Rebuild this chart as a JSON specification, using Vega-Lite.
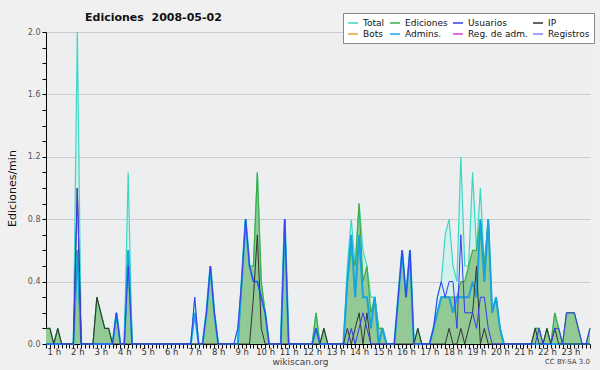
{
  "$schema": "https://vega.github.io/schema/vega-lite/v6.json",
  "width": 544,
  "height": 312,
  "autosize": {"type": "none"},
  "padding": {"left": 46, "top": 32, "right": 10, "bottom": 26},
  "background": "#f0f0f0",
  "config": {"view": {"fill": "#eceef0", "stroke": null}, "font": "DejaVu Sans"},
  "title": {"text": "Ediciones\u00a0 2008-05-02", "anchor": "start", "frame": "group", "dx": 39, "offset": -10, "fontSize": 11, "fontWeight": "bold", "color": "#111", "font": "DejaVu Sans"},
  "data": {"values": [
    {"m":40,"Total":0.1,"Ediciones":0.1,"Usuarios":0,"IP":0.1,"Admins":0},
    {"m":50,"Total":0.1,"Ediciones":0.1,"Usuarios":0,"IP":0.1,"Admins":0},
    {"m":60,"Total":0,"Ediciones":0,"Usuarios":0,"IP":0,"Admins":0},
    {"m":70,"Total":0.1,"Ediciones":0.1,"Usuarios":0,"IP":0.1,"Admins":0},
    {"m":80,"Total":0,"Ediciones":0,"Usuarios":0,"IP":0,"Admins":0},
    {"m":90,"Total":0,"Ediciones":0,"Usuarios":0,"IP":0,"Admins":0},
    {"m":100,"Total":0,"Ediciones":0,"Usuarios":0,"IP":0,"Admins":0},
    {"m":110,"Total":0,"Ediciones":0,"Usuarios":0,"IP":0,"Admins":0},
    {"m":120,"Total":2.0,"Ediciones":0.6,"Usuarios":1.0,"IP":1.0,"Admins":0.6},
    {"m":130,"Total":0,"Ediciones":0,"Usuarios":0,"IP":0,"Admins":0},
    {"m":140,"Total":0,"Ediciones":0,"Usuarios":0,"IP":0,"Admins":0},
    {"m":150,"Total":0,"Ediciones":0,"Usuarios":0,"IP":0,"Admins":0},
    {"m":160,"Total":0,"Ediciones":0,"Usuarios":0,"IP":0,"Admins":0},
    {"m":170,"Total":0.3,"Ediciones":0.3,"Usuarios":0,"IP":0.3,"Admins":0},
    {"m":180,"Total":0.2,"Ediciones":0.2,"Usuarios":0,"IP":0.2,"Admins":0},
    {"m":190,"Total":0.1,"Ediciones":0.1,"Usuarios":0,"IP":0.1,"Admins":0},
    {"m":200,"Total":0.1,"Ediciones":0.1,"Usuarios":0,"IP":0.1,"Admins":0},
    {"m":210,"Total":0,"Ediciones":0,"Usuarios":0,"IP":0,"Admins":0},
    {"m":220,"Total":0.2,"Ediciones":0.2,"Usuarios":0.2,"IP":0,"Admins":0.2},
    {"m":230,"Total":0,"Ediciones":0,"Usuarios":0,"IP":0,"Admins":0},
    {"m":240,"Total":0,"Ediciones":0,"Usuarios":0,"IP":0,"Admins":0},
    {"m":250,"Total":1.1,"Ediciones":0.6,"Usuarios":0.5,"IP":0,"Admins":0.6},
    {"m":260,"Total":0,"Ediciones":0,"Usuarios":0,"IP":0,"Admins":0},
    {"m":270,"Total":0,"Ediciones":0,"Usuarios":0,"IP":0,"Admins":0},
    {"m":280,"Total":0,"Ediciones":0,"Usuarios":0,"IP":0,"Admins":0},
    {"m":290,"Total":0,"Ediciones":0,"Usuarios":0,"IP":0,"Admins":0},
    {"m":300,"Total":0,"Ediciones":0,"Usuarios":0,"IP":0,"Admins":0},
    {"m":310,"Total":0,"Ediciones":0,"Usuarios":0,"IP":0,"Admins":0},
    {"m":320,"Total":0,"Ediciones":0,"Usuarios":0,"IP":0,"Admins":0},
    {"m":330,"Total":0,"Ediciones":0,"Usuarios":0,"IP":0,"Admins":0},
    {"m":340,"Total":0,"Ediciones":0,"Usuarios":0,"IP":0,"Admins":0},
    {"m":350,"Total":0,"Ediciones":0,"Usuarios":0,"IP":0,"Admins":0},
    {"m":360,"Total":0,"Ediciones":0,"Usuarios":0,"IP":0,"Admins":0},
    {"m":370,"Total":0,"Ediciones":0,"Usuarios":0,"IP":0,"Admins":0},
    {"m":380,"Total":0,"Ediciones":0,"Usuarios":0,"IP":0,"Admins":0},
    {"m":390,"Total":0,"Ediciones":0,"Usuarios":0,"IP":0,"Admins":0},
    {"m":400,"Total":0,"Ediciones":0,"Usuarios":0,"IP":0,"Admins":0},
    {"m":410,"Total":0,"Ediciones":0,"Usuarios":0,"IP":0,"Admins":0},
    {"m":420,"Total":0.3,"Ediciones":0,"Usuarios":0.3,"IP":0,"Admins":0.2},
    {"m":430,"Total":0,"Ediciones":0,"Usuarios":0,"IP":0,"Admins":0},
    {"m":440,"Total":0,"Ediciones":0,"Usuarios":0,"IP":0,"Admins":0},
    {"m":450,"Total":0.2,"Ediciones":0.2,"Usuarios":0.2,"IP":0,"Admins":0.2},
    {"m":460,"Total":0.5,"Ediciones":0.5,"Usuarios":0.5,"IP":0,"Admins":0.5},
    {"m":470,"Total":0.2,"Ediciones":0.2,"Usuarios":0.2,"IP":0,"Admins":0.2},
    {"m":480,"Total":0,"Ediciones":0,"Usuarios":0,"IP":0,"Admins":0},
    {"m":490,"Total":0,"Ediciones":0,"Usuarios":0,"IP":0,"Admins":0},
    {"m":500,"Total":0,"Ediciones":0,"Usuarios":0,"IP":0,"Admins":0},
    {"m":510,"Total":0,"Ediciones":0,"Usuarios":0,"IP":0,"Admins":0},
    {"m":520,"Total":0,"Ediciones":0,"Usuarios":0,"IP":0,"Admins":0},
    {"m":530,"Total":0.1,"Ediciones":0,"Usuarios":0.1,"IP":0,"Admins":0},
    {"m":540,"Total":0.4,"Ediciones":0.4,"Usuarios":0.4,"IP":0,"Admins":0.4},
    {"m":550,"Total":0.8,"Ediciones":0.8,"Usuarios":0.8,"IP":0,"Admins":0.8},
    {"m":560,"Total":0.5,"Ediciones":0.5,"Usuarios":0.5,"IP":0,"Admins":0.5},
    {"m":570,"Total":0.5,"Ediciones":0.5,"Usuarios":0.4,"IP":0.3,"Admins":0.4},
    {"m":580,"Total":1.1,"Ediciones":1.1,"Usuarios":0.4,"IP":0.7,"Admins":0.4},
    {"m":590,"Total":0.4,"Ediciones":0.4,"Usuarios":0.3,"IP":0.1,"Admins":0.3},
    {"m":600,"Total":0.2,"Ediciones":0.2,"Usuarios":0.2,"IP":0,"Admins":0.2},
    {"m":610,"Total":0,"Ediciones":0,"Usuarios":0,"IP":0,"Admins":0},
    {"m":620,"Total":0,"Ediciones":0,"Usuarios":0,"IP":0,"Admins":0},
    {"m":630,"Total":0,"Ediciones":0,"Usuarios":0,"IP":0,"Admins":0},
    {"m":640,"Total":0,"Ediciones":0,"Usuarios":0,"IP":0,"Admins":0},
    {"m":650,"Total":0.8,"Ediciones":0.8,"Usuarios":0.8,"IP":0,"Admins":0.8},
    {"m":660,"Total":0,"Ediciones":0,"Usuarios":0,"IP":0,"Admins":0},
    {"m":670,"Total":0,"Ediciones":0,"Usuarios":0,"IP":0,"Admins":0},
    {"m":680,"Total":0,"Ediciones":0,"Usuarios":0,"IP":0,"Admins":0},
    {"m":690,"Total":0,"Ediciones":0,"Usuarios":0,"IP":0,"Admins":0},
    {"m":700,"Total":0,"Ediciones":0,"Usuarios":0,"IP":0,"Admins":0},
    {"m":710,"Total":0,"Ediciones":0,"Usuarios":0,"IP":0,"Admins":0},
    {"m":720,"Total":0,"Ediciones":0,"Usuarios":0,"IP":0,"Admins":0},
    {"m":730,"Total":0.2,"Ediciones":0.2,"Usuarios":0.1,"IP":0,"Admins":0.1},
    {"m":740,"Total":0,"Ediciones":0,"Usuarios":0,"IP":0,"Admins":0},
    {"m":750,"Total":0.1,"Ediciones":0.1,"Usuarios":0,"IP":0.1,"Admins":0},
    {"m":760,"Total":0,"Ediciones":0,"Usuarios":0,"IP":0,"Admins":0},
    {"m":770,"Total":0,"Ediciones":0,"Usuarios":0,"IP":0,"Admins":0},
    {"m":780,"Total":0,"Ediciones":0,"Usuarios":0,"IP":0,"Admins":0},
    {"m":790,"Total":0,"Ediciones":0,"Usuarios":0,"IP":0,"Admins":0},
    {"m":800,"Total":0,"Ediciones":0,"Usuarios":0,"IP":0,"Admins":0},
    {"m":810,"Total":0.5,"Ediciones":0.4,"Usuarios":0,"IP":0.1,"Admins":0.4},
    {"m":820,"Total":0.8,"Ediciones":0.6,"Usuarios":0.1,"IP":0,"Admins":0.7},
    {"m":830,"Total":0.5,"Ediciones":0.5,"Usuarios":0,"IP":0.1,"Admins":0.3},
    {"m":840,"Total":0.9,"Ediciones":0.9,"Usuarios":0.1,"IP":0.2,"Admins":0.7},
    {"m":850,"Total":0.6,"Ediciones":0.4,"Usuarios":0.2,"IP":0,"Admins":0.3},
    {"m":860,"Total":0.5,"Ediciones":0.5,"Usuarios":0.1,"IP":0.2,"Admins":0.3},
    {"m":870,"Total":0.3,"Ediciones":0.2,"Usuarios":0,"IP":0,"Admins":0.1},
    {"m":880,"Total":0.3,"Ediciones":0.3,"Usuarios":0,"IP":0,"Admins":0.3},
    {"m":890,"Total":0.1,"Ediciones":0.1,"Usuarios":0,"IP":0,"Admins":0},
    {"m":900,"Total":0.1,"Ediciones":0.1,"Usuarios":0,"IP":0,"Admins":0.1},
    {"m":910,"Total":0,"Ediciones":0,"Usuarios":0,"IP":0,"Admins":0},
    {"m":920,"Total":0,"Ediciones":0,"Usuarios":0,"IP":0,"Admins":0},
    {"m":930,"Total":0,"Ediciones":0,"Usuarios":0,"IP":0,"Admins":0},
    {"m":940,"Total":0.3,"Ediciones":0.3,"Usuarios":0.3,"IP":0,"Admins":0.3},
    {"m":950,"Total":0.6,"Ediciones":0.6,"Usuarios":0.6,"IP":0,"Admins":0.6},
    {"m":960,"Total":0.3,"Ediciones":0.3,"Usuarios":0.3,"IP":0,"Admins":0.3},
    {"m":970,"Total":0.6,"Ediciones":0.6,"Usuarios":0.6,"IP":0,"Admins":0.6},
    {"m":980,"Total":0,"Ediciones":0,"Usuarios":0,"IP":0,"Admins":0},
    {"m":990,"Total":0.1,"Ediciones":0.1,"Usuarios":0,"IP":0.1,"Admins":0},
    {"m":1000,"Total":0,"Ediciones":0,"Usuarios":0,"IP":0,"Admins":0},
    {"m":1010,"Total":0,"Ediciones":0,"Usuarios":0,"IP":0,"Admins":0},
    {"m":1020,"Total":0,"Ediciones":0,"Usuarios":0,"IP":0,"Admins":0},
    {"m":1030,"Total":0.1,"Ediciones":0.1,"Usuarios":0.1,"IP":0,"Admins":0.1},
    {"m":1040,"Total":0.3,"Ediciones":0.2,"Usuarios":0.3,"IP":0,"Admins":0.2},
    {"m":1050,"Total":0.4,"Ediciones":0.3,"Usuarios":0.4,"IP":0,"Admins":0.3},
    {"m":1060,"Total":0.7,"Ediciones":0.3,"Usuarios":0.3,"IP":0,"Admins":0.3},
    {"m":1070,"Total":0.8,"Ediciones":0.3,"Usuarios":0.4,"IP":0.1,"Admins":0.3},
    {"m":1080,"Total":0.5,"Ediciones":0.3,"Usuarios":0.4,"IP":0,"Admins":0.2},
    {"m":1090,"Total":0.4,"Ediciones":0.3,"Usuarios":0.1,"IP":0,"Admins":0.3},
    {"m":1100,"Total":1.2,"Ediciones":0.4,"Usuarios":0.7,"IP":0.1,"Admins":0.3},
    {"m":1110,"Total":0.5,"Ediciones":0.4,"Usuarios":0.2,"IP":0,"Admins":0.3},
    {"m":1120,"Total":0.5,"Ediciones":0.5,"Usuarios":0.2,"IP":0.1,"Admins":0.3},
    {"m":1130,"Total":1.1,"Ediciones":0.6,"Usuarios":0.2,"IP":0.2,"Admins":0.4},
    {"m":1140,"Total":0.6,"Ediciones":0.6,"Usuarios":0.1,"IP":0.5,"Admins":0.3},
    {"m":1150,"Total":1.0,"Ediciones":0.8,"Usuarios":0.3,"IP":0,"Admins":0.8},
    {"m":1160,"Total":0.5,"Ediciones":0.5,"Usuarios":0.3,"IP":0.1,"Admins":0.4},
    {"m":1170,"Total":0.8,"Ediciones":0.8,"Usuarios":0.1,"IP":0,"Admins":0.8},
    {"m":1180,"Total":0.2,"Ediciones":0.2,"Usuarios":0,"IP":0,"Admins":0.2},
    {"m":1190,"Total":0.3,"Ediciones":0.3,"Usuarios":0,"IP":0,"Admins":0.3},
    {"m":1200,"Total":0.1,"Ediciones":0.1,"Usuarios":0,"IP":0,"Admins":0.1},
    {"m":1210,"Total":0,"Ediciones":0,"Usuarios":0,"IP":0,"Admins":0},
    {"m":1220,"Total":0,"Ediciones":0,"Usuarios":0,"IP":0,"Admins":0},
    {"m":1230,"Total":0,"Ediciones":0,"Usuarios":0,"IP":0,"Admins":0},
    {"m":1240,"Total":0,"Ediciones":0,"Usuarios":0,"IP":0,"Admins":0},
    {"m":1250,"Total":0,"Ediciones":0,"Usuarios":0,"IP":0,"Admins":0},
    {"m":1260,"Total":0,"Ediciones":0,"Usuarios":0,"IP":0,"Admins":0},
    {"m":1270,"Total":0,"Ediciones":0,"Usuarios":0,"IP":0,"Admins":0},
    {"m":1280,"Total":0,"Ediciones":0,"Usuarios":0,"IP":0,"Admins":0},
    {"m":1290,"Total":0.1,"Ediciones":0.1,"Usuarios":0,"IP":0.1,"Admins":0},
    {"m":1300,"Total":0.1,"Ediciones":0.1,"Usuarios":0.1,"IP":0,"Admins":0},
    {"m":1310,"Total":0,"Ediciones":0,"Usuarios":0,"IP":0,"Admins":0},
    {"m":1320,"Total":0.1,"Ediciones":0.1,"Usuarios":0,"IP":0.1,"Admins":0},
    {"m":1330,"Total":0,"Ediciones":0,"Usuarios":0,"IP":0,"Admins":0},
    {"m":1340,"Total":0.2,"Ediciones":0.2,"Usuarios":0.1,"IP":0.1,"Admins":0},
    {"m":1350,"Total":0.1,"Ediciones":0.1,"Usuarios":0.1,"IP":0,"Admins":0},
    {"m":1360,"Total":0,"Ediciones":0,"Usuarios":0,"IP":0,"Admins":0},
    {"m":1370,"Total":0.2,"Ediciones":0.2,"Usuarios":0.2,"IP":0,"Admins":0},
    {"m":1380,"Total":0.2,"Ediciones":0.2,"Usuarios":0.2,"IP":0,"Admins":0},
    {"m":1390,"Total":0.2,"Ediciones":0.2,"Usuarios":0.2,"IP":0,"Admins":0},
    {"m":1400,"Total":0.1,"Ediciones":0.1,"Usuarios":0.1,"IP":0,"Admins":0},
    {"m":1410,"Total":0,"Ediciones":0,"Usuarios":0,"IP":0,"Admins":0},
    {"m":1420,"Total":0,"Ediciones":0,"Usuarios":0,"IP":0,"Admins":0},
    {"m":1430,"Total":0.1,"Ediciones":0.1,"Usuarios":0.1,"IP":0,"Admins":0}
  ]},
  "encoding": {
    "x": {"field": "m", "type": "quantitative", "scale": {"domain": [40, 1430], "nice": false, "zero": false},
      "axis": {"tickCount": 139, "labelExpr": "datum.value % 60 == 0 ? (datum.value / 60) + ' h' : ''", "grid": false, "domainColor": "#000", "tickColor": "#000", "tickSize": 4, "labelFontSize": 8.5, "labelColor": "#333", "labelPadding": -1, "labelOverlap": false, "labelFlush": false, "labelBound": false, "title": "wikiscan.org", "titleFontSize": 9, "titleFontWeight": "normal", "titleColor": "#444", "titlePadding": 2, "titleX": 254}},
    "y": {"field": "v", "type": "quantitative", "scale": {"domain": [0, 2], "nice": false},
      "axis": {"values": [0,0.1,0.2,0.3,0.4,0.5,0.6,0.7,0.8,0.9,1.0,1.1,1.2,1.3,1.4,1.5,1.6,1.7,1.8,1.9,2.0], "labelExpr": "round(datum.value * 10) % 4 == 0 ? format(datum.value, '.1f') : ''", "grid": true, "gridColor": "#cccccc", "gridOpacity": {"condition": {"test": "round(datum.value * 10) % 4 == 0 && datum.value > 0", "value": 1}, "value": 0}, "domainColor": "#000", "tickColor": "#000", "tickSize": 4, "labelFontSize": 8, "labelColor": "#555", "labelPadding": 2, "labelOverlap": false, "title": "Ediciones/min", "titleFontSize": 11, "titleFontWeight": "normal", "titleColor": "#111", "titlePadding": 10}}
  },
  "layer": [
    {"transform": [{"fold": ["Total","Ediciones","Usuarios","IP","Admins"], "as": ["s","v"]}, {"filter": "datum.s == 'Total'"}],
     "mark": {"type": "area", "color": "#d2f0ec"}},
    {"transform": [{"fold": ["Total","Ediciones","Usuarios","IP","Admins"], "as": ["s","v"]}, {"filter": "datum.s == 'Ediciones'"}],
     "mark": {"type": "area", "color": "#93c994"}},
    {"transform": [{"fold": ["Total","Ediciones","Usuarios","IP","Admins"], "as": ["s","v"]}, {"filter": "datum.s == 'Total'"}],
     "mark": {"type": "line", "strokeWidth": 1.2},
     "encoding": {"color": {"field": "s", "type": "nominal",
       "scale": {"domain": ["Total","Ediciones","Usuarios","IP","Bots","Admins","Reg. de adm.","Registros"], "range": ["#3fd6c6","#3fae3f","#3a3af0","#333333","#f0a030","#18a4e0","#d040d8","#8080f0"]},
       "legend": {"orient": "none", "legendX": 297, "legendY": -19, "direction": "horizontal", "columns": 4, "gridAlign": "each", "title": null, "symbolType": "stroke", "symbolSize": 100, "symbolStrokeWidth": 1.5, "labelFont": "DejaVu Sans", "labelFontSize": 9, "labelColor": "#111", "labelOffset": 4, "columnPadding": 2, "rowPadding": 0, "padding": 4, "fillColor": "#ffffff", "strokeColor": "#888888", "labelExpr": "datum.label == 'Admins' ? 'Admins.' : datum.label"}}}},
    {"transform": [{"fold": ["Total","Ediciones","Usuarios","IP","Admins"], "as": ["s","v"]}, {"filter": "datum.s == 'Ediciones'"}],
     "mark": {"type": "line", "strokeWidth": 1.2},
     "encoding": {"color": {"field": "s", "type": "nominal"}}},
    {"transform": [{"fold": ["Total","Ediciones","Usuarios","IP","Admins"], "as": ["s","v"]}, {"filter": "datum.s == 'Admins'"}],
     "mark": {"type": "line", "strokeWidth": 2},
     "encoding": {"color": {"field": "s", "type": "nominal"}}},
    {"transform": [{"fold": ["Total","Ediciones","Usuarios","IP","Admins"], "as": ["s","v"]}, {"filter": "datum.s == 'IP'"}],
     "mark": {"type": "line", "strokeWidth": 1},
     "encoding": {"color": {"field": "s", "type": "nominal"}}},
    {"transform": [{"fold": ["Total","Ediciones","Usuarios","IP","Admins"], "as": ["s","v"]}, {"filter": "datum.s == 'Usuarios'"}],
     "mark": {"type": "line", "strokeWidth": 1},
     "encoding": {"color": {"field": "s", "type": "nominal"}}},
    {"data": {"values": [{"t": "CC BY-SA 3.0", "x": 1430, "y": 0}]},
     "mark": {"type": "text", "align": "right", "baseline": "middle", "dy": 18, "fontSize": 7, "color": "#444", "font": "DejaVu Sans"},
     "encoding": {"x": {"field": "x", "type": "quantitative"}, "y": {"field": "y", "type": "quantitative"}, "text": {"field": "t"}}}
  ]
}
